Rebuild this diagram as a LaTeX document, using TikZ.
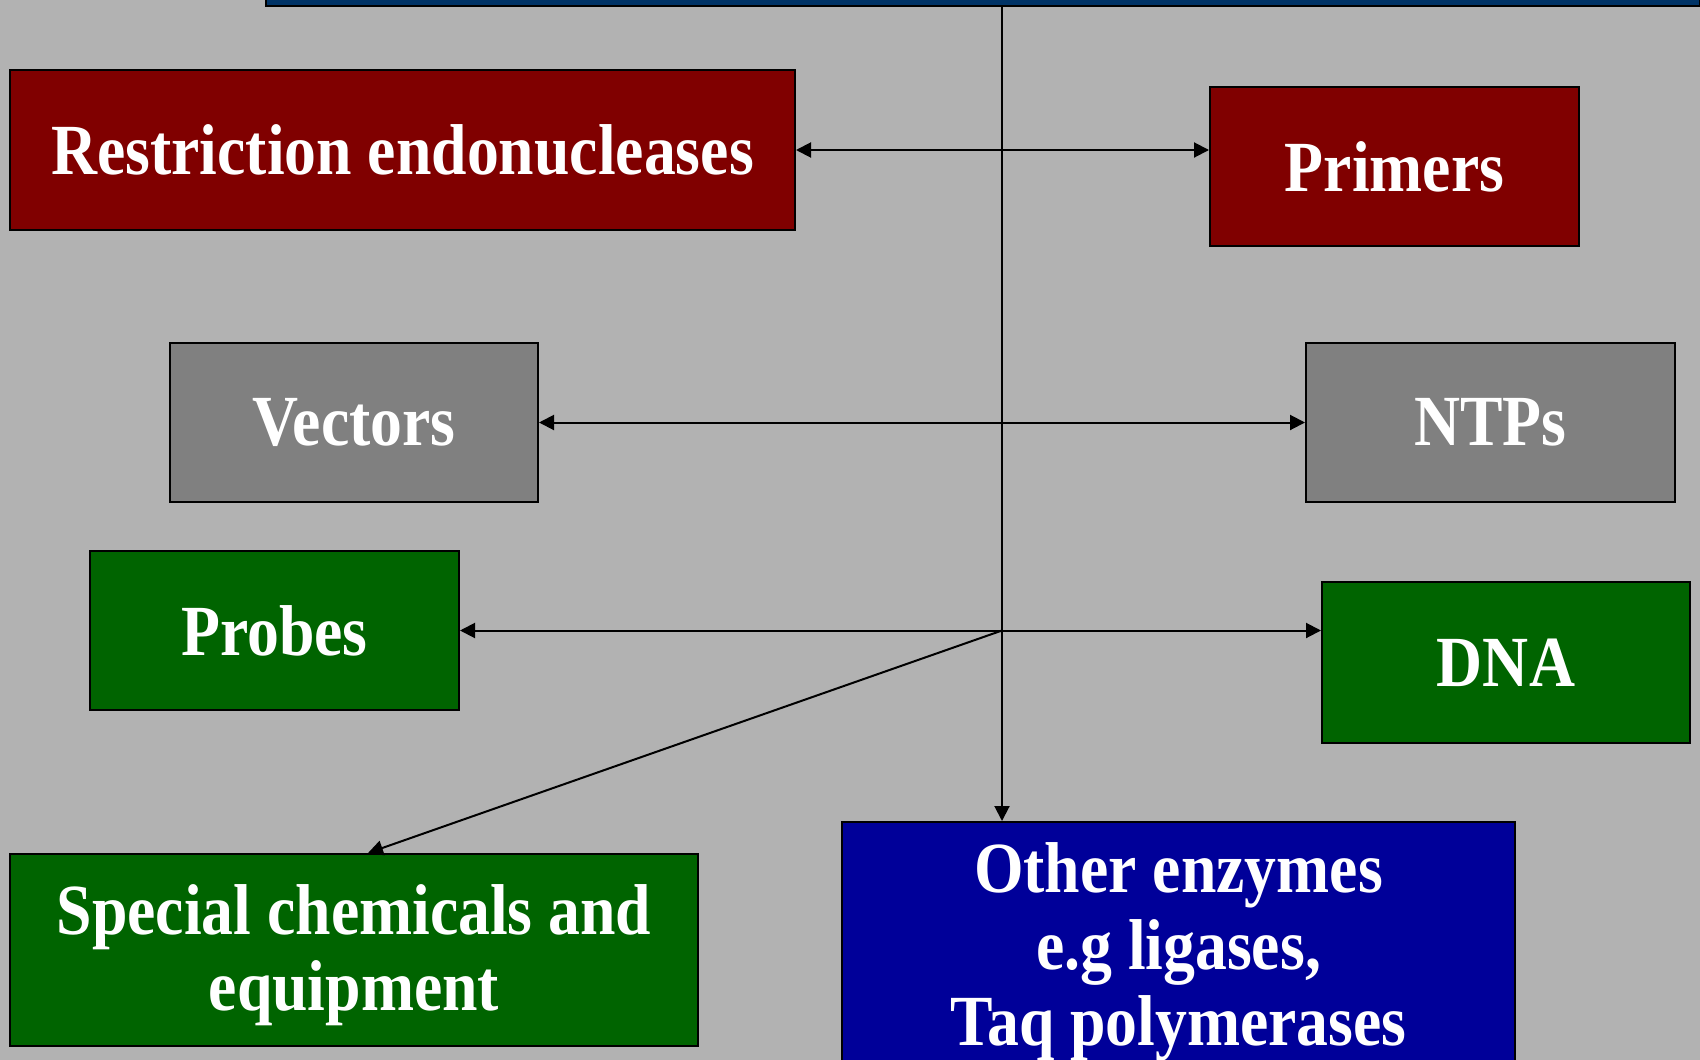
\documentclass[tikz,border=0pt]{standalone}
\usepackage{fontspec}
\setmainfont{Liberation Serif}[FakeStretch=0.885]
\usetikzlibrary{arrows.meta,calc}
\definecolor{bgc}{HTML}{B2B2B2}
\definecolor{redc}{HTML}{800000}
\definecolor{greyc}{HTML}{808080}
\definecolor{greenc}{HTML}{006400}
\definecolor{bluec}{HTML}{000099}
\definecolor{navyc}{HTML}{003366}
\begin{document}
\begin{tikzpicture}[x=1pt,y=-1pt,
  box/.style={draw=black,line width=2pt,inner sep=0pt,align=center,text=white,
    font=\fontsize{72}{76.5}\selectfont\bfseries},
  txt/.style={inner sep=0pt,align=center,text=white,
    font=\fontsize{72}{76.5}\selectfont\bfseries},
  link/.style={line width=2pt,draw=black},
  tipend/.style={-{Triangle[length=15pt,width=15pt]}},
  tipboth/.style={{Triangle[length=15pt,width=15pt]}-{Triangle[length=15pt,width=15pt]}}
]
\clip (0,0) rectangle (1700,1060);
\fill[bgc] (0,0) rectangle (1700,1060);

\node[box,fill=navyc,minimum width=1434pt,minimum height=56pt] (T) at (983,-22) {};

\node[box,fill=redc,minimum width=785pt,minimum height=160pt] (R) at (402.5,150) {Restriction endonucleases};
\node[box,fill=redc,minimum width=369pt,minimum height=159pt] (P) at (1394.5,166.5) {Primers};
\node[box,fill=greyc,minimum width=368pt,minimum height=159pt] (V) at (354,422.5) {Vectors};
\node[box,fill=greyc,minimum width=369pt,minimum height=159pt] (N) at (1490.5,422.5) {NTPs};
\node[box,fill=greenc,minimum width=369pt,minimum height=159pt] (Pr) at (274.5,630.5) {Probes};
\node[box,fill=greenc,minimum width=368pt,minimum height=161pt] (D) at (1506,662.5) {DNA};
\node[box,fill=greenc,minimum width=688pt,minimum height=192pt] (S) at (354,950) {};
\node[txt] (Stxt) at ($(S.center)+(0,5)$) {Special chemicals and\\equipment};
\node[box,fill=bluec,minimum width=673pt,minimum height=244pt] (O) at (1178.5,944) {};
\node[txt] (Otxt) at ($(O.center)+(0,8)$) {Other enzymes\\e.g ligases,\\Taq polymerases};

\coordinate (hub) at (1002,630.5);
\coordinate (stop) at ($(S.north west)+(359,0)$);

\draw[link,tipend] (T.south -| hub) -- (O.north -| hub);
\draw[link,tipboth] (R.east) -- (R.east -| P.west);
\draw[link,tipboth] (V.east) -- (N.west);
\draw[link,tipboth] (Pr.east) -- (Pr.east -| D.west);
\draw[link,tipend] (hub) -- (stop);
\end{tikzpicture}
\end{document}
